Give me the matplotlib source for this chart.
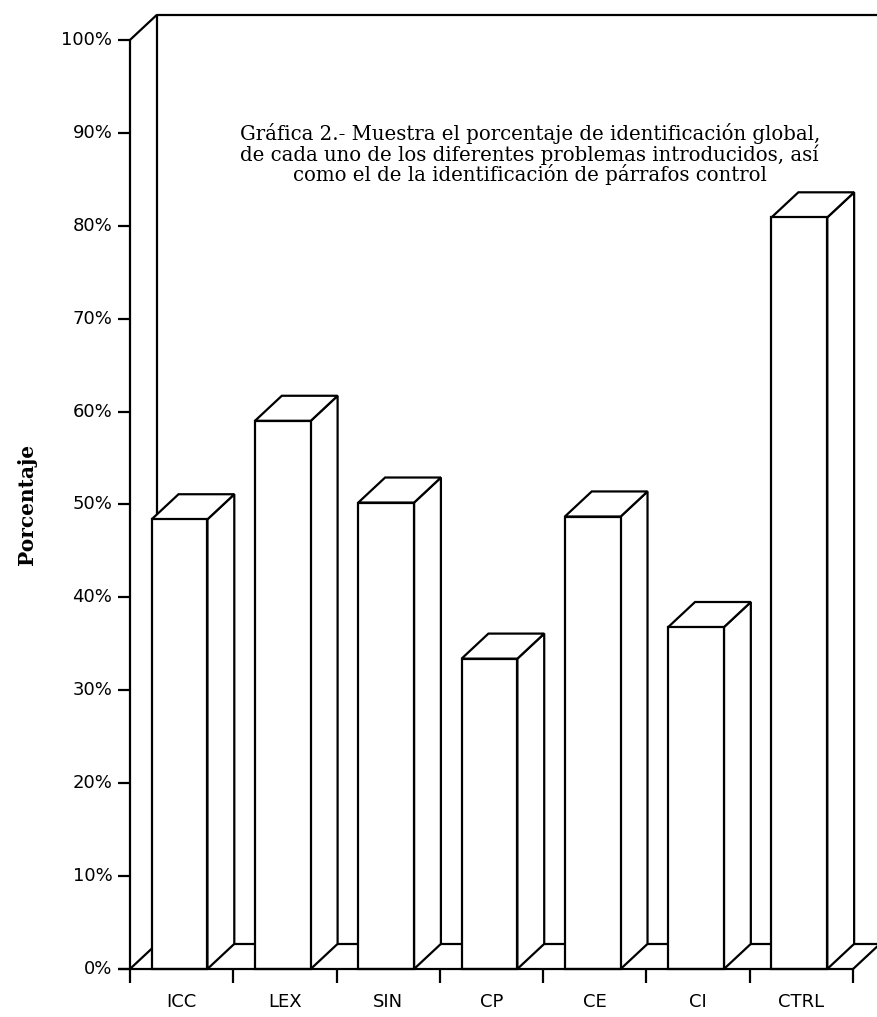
import matplotlib.pyplot as plt
from matplotlib.patches import Polygon

# data
categories = ["ICC", "LEX", "SIN", "CP", "CE", "CI", "CTRL"]
values = [48.4, 59.0, 50.2, 33.4, 48.7, 36.8, 80.9]
yticks = [0, 10, 20, 30, 40, 50, 60, 70, 80, 90, 100]
title_lines = [
    "Gráfica 2.- Muestra el porcentaje de identificación global,",
    "de cada uno de los diferentes problemas introducidos, así",
    "como el de la identificación de párrafos control",
]
ylabel = "Porcentaje"

# pseudo-3D geometry (category units on x, percent on y)
DX, DY = 0.26, 2.7
OFF, W = 0.21, 0.54
LW = 1.6
n = len(categories)

fig = plt.figure(figsize=(8.78, 10.17), dpi=100)
ax = fig.add_axes([0, 0, 1, 1])
ax.set_xlim(-1.258, 7.241)
ax.set_ylim(-5.17, 104.3)
ax.axis("off")

back = dict(color="black", lw=LW, solid_capstyle="butt", zorder=1)
front_ln = dict(color="black", lw=LW, solid_capstyle="butt", zorder=5)

# back wall + floor (behind the bars)
ax.plot([DX, DX, n + DX + 1], [DY, 100 + DY, 100 + DY], **back)
ax.plot([0, DX], [100, 100 + DY], **back)
ax.plot([DX, n + DX + 1], [DY, DY], **back)
ax.plot([0, DX], [0, DY], **back)
ax.plot([n, n + DX], [0, DY], **back)

# bars, left to right so each one covers what is behind it
for i, v in enumerate(values):
    xl = i + OFF
    xr = xl + W
    z = 2 + i * 0.01
    side = Polygon([(xr, 0), (xr + DX, DY), (xr + DX, v + DY), (xr, v)],
                   closed=True, fc="white", ec="black", lw=LW,
                   joinstyle="miter", zorder=z)
    top = Polygon([(xl, v), (xr, v), (xr + DX, v + DY), (xl + DX, v + DY)],
                  closed=True, fc="white", ec="black", lw=LW,
                  joinstyle="miter", zorder=z)
    face = Polygon([(xl, 0), (xr, 0), (xr, v), (xl, v)],
                   closed=True, fc="white", ec="black", lw=LW,
                   joinstyle="miter", zorder=z + 0.001)
    for p in (side, top, face):
        ax.add_patch(p)

# front axes
ax.plot([0, 0], [-1.5, 100], **front_ln)
ax.plot([-0.12, n], [0, 0], **front_ln)
for t in yticks:
    ax.plot([-0.12, 0], [t, t], **front_ln)
    ax.text(-0.17, t, f"{t}%", ha="right", va="center", fontsize=13,
            family="DejaVu Sans")
for i in range(1, n + 1):
    ax.plot([i, i], [0, -1.5], **front_ln)
for i, c in enumerate(categories):
    ax.text(i + 0.5, -3.55, c, ha="center", va="center", fontsize=13,
            family="DejaVu Sans")

ax.text(-1.0, 50, ylabel, rotation=90, ha="center", va="center",
        fontsize=14.5, fontweight="bold", family="DejaVu Serif")

for s, yb in zip(title_lines, [89.2, 87.0, 84.8]):
    ax.text(3.87, yb, s, ha="center", va="baseline", fontsize=14.2,
            family="DejaVu Serif", zorder=6)

fig.savefig("out.png", dpi=100, facecolor="white")
